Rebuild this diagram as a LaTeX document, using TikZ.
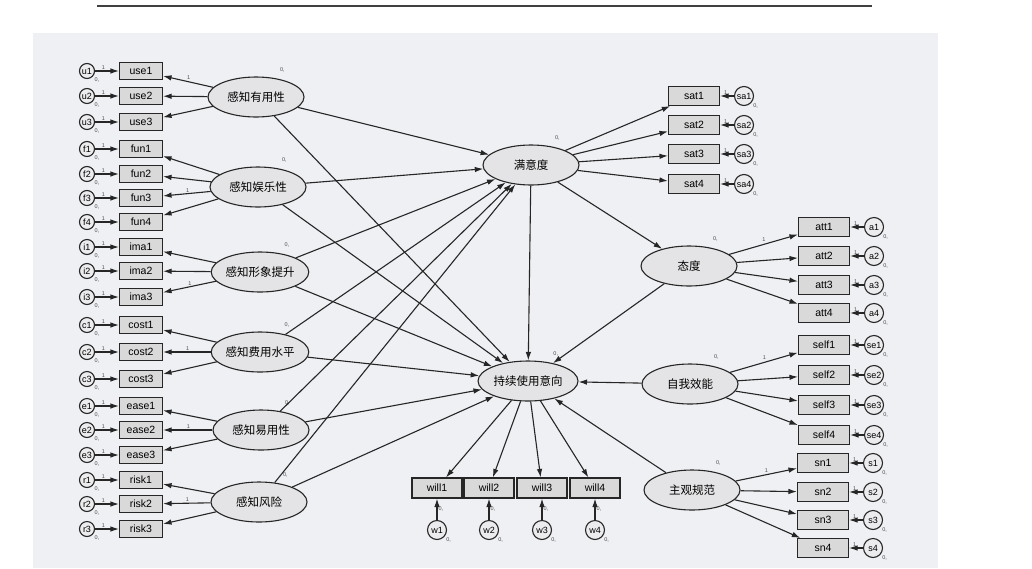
\documentclass[tikz,border=0pt]{standalone}
\usepackage{fontspec}
\setmainfont{Liberation Sans}
\newfontfamily\cjk{Noto Sans CJK SC}
\usetikzlibrary{shapes.geometric,arrows.meta}
\definecolor{bggray}{HTML}{EFF0F3}
\definecolor{boxgray}{HTML}{D9D9D9}
\definecolor{latgray}{HTML}{E4E4E6}
\definecolor{errgray}{HTML}{ECECEE}
\tikzset{
  obs/.style={draw, fill=boxgray, minimum width=43pt, minimum height=17pt, inner sep=0pt, font=\fontsize{10.5}{11}\selectfont},
  obsw/.style={obs, minimum width=51pt, minimum height=19pt},
  lat/.style={ellipse, draw, fill=latgray, minimum width=96pt, minimum height=40pt, inner sep=0pt, font=\cjk\fontsize{11.5}{12}\selectfont},
  err/.style={circle, draw, fill=errgray, minimum size=15pt, inner sep=0pt, font=\fontsize{9}{9}\selectfont, label={[tinyl]-40:0,}},
  errw/.style={err, minimum size=19pt},
  tinyl/.style={font=\fontsize{5.5}{5.5}\selectfont, inner sep=1pt, text=black!70},
}
\begin{document}
\begin{tikzpicture}[x=1pt, y=-1pt, line width=1.1pt, draw=black!85, >={Latex[length=8.5pt,width=5.5pt]}]
      \useasboundingbox (0,0) rectangle (1032,568);
      \fill [bggray] (33,33) rectangle (938,568);
      \coordinate (ls) at (97,6);
      \coordinate (le) at (872,6);
      \draw [line width=1.8pt, black!75] (ls) -- (le);
      % latent variables
      \node [lat] (use) at (256,97) {感知有用性};
      \node [lat] (fun) at (258,187) {感知娱乐性};
      \node [lat] (ima) at (260,272) {感知形象提升};
      \node [lat] (cost) at (260,352) {感知费用水平};
      \node [lat] (ease) at (261,430) {感知易用性};
      \node [lat] (risk) at (259,502) {感知风险};
      \node [lat] (sat) at (531,165) {满意度};
      \node [lat] (att) at (689,266) {态度};
      \node [lat] (self) at (690,384) {自我效能};
      \node [lat] (sn) at (692,490) {主观规范};
      \node [lat, minimum width=100pt] (will) at (528,381) {持续使用意向};
      \foreach \lv in {use,fun,ima,cost,ease,risk,sat,att,self,sn,will}
        \path (\lv.north east) ++(-8,-13) node [tinyl] {0,};
      % left indicators
      \foreach \nm/\er/\y/\lv/\one in {use1/u1/71/use/1, use2/u2/96/use/, use3/u3/122/use/,
          fun1/f1/149/fun/, fun2/f2/174/fun/, fun3/f3/198/fun/1, fun4/f4/222/fun/,
          ima1/i1/247/ima/, ima2/i2/271/ima/, ima3/i3/297/ima/1,
          cost1/c1/325/cost/, cost2/c2/352/cost/1, cost3/c3/379/cost/,
          ease1/e1/406/ease/, ease2/e2/430/ease/1, ease3/e3/455/ease/,
          risk1/r1/480/risk/, risk2/r2/504/risk/1, risk3/r3/529/risk/} {
        \node [obs] (\nm) at (141,\y) {\nm};
        \node [err] (\er) at (87,\y) {\er};
        \draw [->] (\er) -- node [tinyl, above, pos=0.35] {1} (\nm);
        \draw [->] (\lv) -- node [tinyl, above right, pos=0.55] {\one} (\nm);
      }
      % right indicators
      \foreach \nm/\er/\x/\y/\lv/\one in {sat1/sa1/694/96/sat/, sat2/sa2/694/125/sat/, sat3/sa3/694/154/sat/, sat4/sa4/694/184/sat/,
          att1/a1/824/227/att/1, att2/a2/824/256/att/, att3/a3/824/285/att/, att4/a4/824/313/att/,
          self1/se1/824/345/self/1, self2/se2/824/375/self/, self3/se3/824/405/self/, self4/se4/824/435/self/,
          sn1/s1/823/463/sn/1, sn2/s2/823/492/sn/, sn3/s3/823/520/sn/, sn4/s4/823/548/sn/} {
        \node [obsw] (\nm) at (\x,\y) {\nm};
        \node [errw] (\er) at (\x+50,\y) {\er};
        \draw [->] (\er) -- node [tinyl, above, pos=0.6] {1} (\nm);
        \draw [->] (\lv) -- node [tinyl, above left, pos=0.55] {\one} (\nm);
      }
      % intention indicators
      \foreach \nm/\er/\x in {will1/w1/437, will2/w2/489, will3/w3/542, will4/w4/595} {
        \node [obsw, minimum width=50pt, minimum height=20pt] (\nm) at (\x,488) {\nm};
        \node [errw] (\er) at (\x,530) {\er};
        \draw [->] (\er) -- node [tinyl, right, pos=0.5] {0,} (\nm);
        \draw [->] (will) -- (\nm);
      }
      % structural paths
      \foreach \lv in {use,fun,ima,cost,ease,risk} {
        \draw [->] (\lv) -- (sat);
        \draw [->] (\lv) -- (will);
      }
      \draw [->] (sat) -- (will);
      \draw [->] (sat) -- (att);
      \draw [->] (att) -- (will);
      \draw [->] (self) -- (will);
      \draw [->] (sn) -- (will);
    \end{tikzpicture}
\end{document}
